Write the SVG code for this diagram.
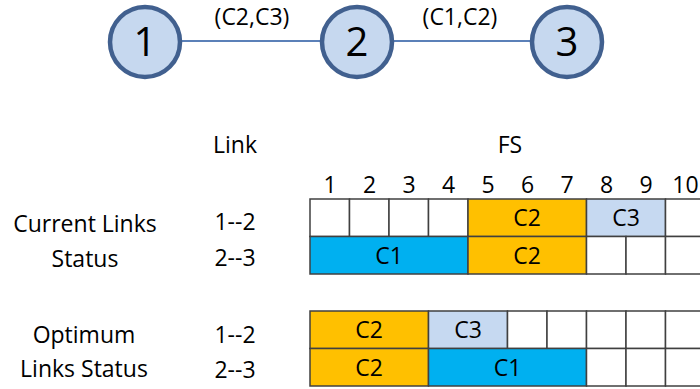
<svg xmlns="http://www.w3.org/2000/svg" width="700" height="389" viewBox="0 0 700 389">
<style>
text{font-family:"Open Sans","Liberation Sans",sans-serif;fill:#000;text-anchor:middle}
.t{font-size:23px}
.n{font-size:40px}
.c{stroke:#41608f;stroke-width:4.5;fill:#c6d8ef}
.e{stroke:#5b80b8;stroke-width:2}
.cell{stroke:#404040;stroke-width:1.5;fill:#fff}
.o{fill:#ffc000}
.b{fill:#00b0f0}
.l{fill:#c6d9f1}
</style>
<rect width="700" height="389" fill="#fff"/>
<g id="connectors">
<line class="e" x1="182" y1="41" x2="320" y2="41"/>
<line class="e" x1="393" y1="41" x2="530" y2="41"/>
<text class="t" x="252" y="25">(C2,C3)</text>
<text class="t" x="460" y="25">(C1,C2)</text>
</g>
<g id="node1"><circle class="c" cx="145" cy="42" r="35"/><text class="n" x="145" y="56">1</text></g>
<g id="node2"><circle class="c" cx="357" cy="42" r="35"/><text class="n" x="357" y="56">2</text></g>
<g id="node3"><circle class="c" cx="567" cy="42" r="35"/><text class="n" x="567" y="56">3</text></g>
<g id="labels">
<text class="t" x="235" y="153">Link</text>
<text class="t" x="510" y="153">FS</text>
<text class="t" x="235" y="230">1--2</text>
<text class="t" x="235" y="266">2--3</text>
<text class="t" x="235" y="343">1--2</text>
<text class="t" x="235" y="378">2--3</text>
<text class="t" x="85" y="232">Current Links</text>
<text class="t" x="85" y="267">Status</text>
<text class="t" x="84" y="343">Optimum</text>
<text class="t" x="84" y="377">Links Status</text>
<text class="t" x="330" y="193">1</text>
<text class="t" x="369.5" y="193">2</text>
<text class="t" x="409" y="193">3</text>
<text class="t" x="448.5" y="193">4</text>
<text class="t" x="488" y="193">5</text>
<text class="t" x="527.5" y="193">6</text>
<text class="t" x="567" y="193">7</text>
<text class="t" x="606.5" y="193">8</text>
<text class="t" x="646" y="193">9</text>
<text class="t" x="685.5" y="193">10</text>
</g>
<g id="current">
<rect class="cell" x="310" y="199" width="39.5" height="37.5"/>
<rect class="cell" x="349.5" y="199" width="39.5" height="37.5"/>
<rect class="cell" x="389" y="199" width="39.5" height="37.5"/>
<rect class="cell" x="428.5" y="199" width="39.5" height="37.5"/>
<rect class="cell o" x="468" y="199" width="118.5" height="37.5"/>
<rect class="cell l" x="586.5" y="199" width="79" height="37.5"/>
<rect class="cell" x="665.5" y="199" width="39.5" height="37.5"/>
<rect class="cell b" x="310" y="236.5" width="158" height="37.5"/>
<rect class="cell o" x="468" y="236.5" width="118.5" height="37.5"/>
<rect class="cell" x="586.5" y="236.5" width="39.5" height="37.5"/>
<rect class="cell" x="626" y="236.5" width="39.5" height="37.5"/>
<rect class="cell" x="665.5" y="236.5" width="39.5" height="37.5"/>
<text class="t" x="527" y="226">C2</text>
<text class="t" x="626" y="226">C3</text>
<text class="t" x="389" y="264">C1</text>
<text class="t" x="527" y="264">C2</text>
</g>
<g id="optimum">
<rect class="cell o" x="310" y="311" width="118.5" height="37.5"/>
<rect class="cell l" x="428.5" y="311" width="79" height="37.5"/>
<rect class="cell" x="507.5" y="311" width="39.5" height="37.5"/>
<rect class="cell" x="547" y="311" width="39.5" height="37.5"/>
<rect class="cell" x="586.5" y="311" width="39.5" height="37.5"/>
<rect class="cell" x="626" y="311" width="39.5" height="37.5"/>
<rect class="cell" x="665.5" y="311" width="39.5" height="37.5"/>
<rect class="cell o" x="310" y="348.5" width="118.5" height="37.5"/>
<rect class="cell b" x="428.5" y="348.5" width="158" height="37.5"/>
<rect class="cell" x="586.5" y="348.5" width="39.5" height="37.5"/>
<rect class="cell" x="626" y="348.5" width="39.5" height="37.5"/>
<rect class="cell" x="665.5" y="348.5" width="39.5" height="37.5"/>
<text class="t" x="369" y="338">C2</text>
<text class="t" x="468" y="338">C3</text>
<text class="t" x="369" y="376">C2</text>
<text class="t" x="507.5" y="376">C1</text>
</g>
</svg>
